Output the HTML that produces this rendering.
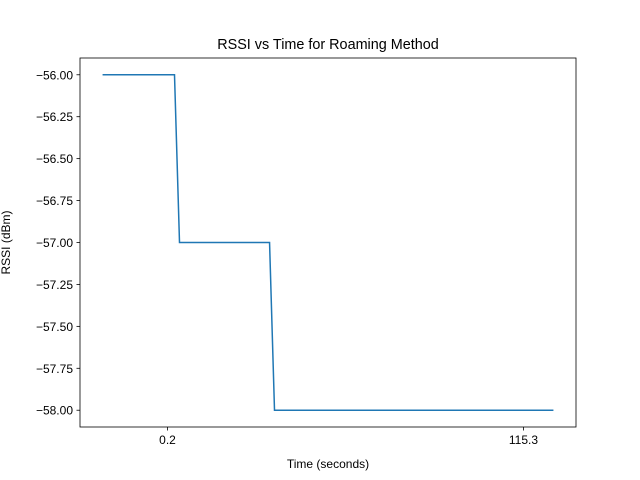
<!DOCTYPE html>
<html><head><meta charset="utf-8"><style>body{margin:0;background:#fff}svg{display:block;font-family:"Liberation Sans","DejaVu Sans",sans-serif}</style></head>
<body>
<svg id="chart" width="640" height="480"></svg>
<script>
const times=[-20.8,2.46,4.08,33.2,34.8,125.0];
const rssi=[-56,-56,-57,-57,-58,-58];
const xTicks=[0.2,115.3];
const xTickLabels=["0.2","115.3"];
const yTicks=[-56,-56.25,-56.5,-56.75,-57,-57.25,-57.5,-57.75,-58];
const yTickLabels=["−56.00","−56.25","−56.50","−56.75","−57.00","−57.25","−57.50","−57.75","−58.00"];
const L=80,R=576,T=58,B=427;
const xmin=-28.1,xmax=132.3,ymin=-58.1,ymax=-55.9;
const xs=v=>L+(v-xmin)/(xmax-xmin)*(R-L);
const ys=v=>B-(v-ymin)/(ymax-ymin)*(B-T);
const svg=document.getElementById('chart');
const NS='http://www.w3.org/2000/svg';
function mk(t,a,p){const e=document.createElementNS(NS,t);for(const k in a)e.setAttribute(k,a[k]);(p||svg).appendChild(e);return e;}
const line=mk('polyline',{points:times.map((t,i)=>xs(t)+','+ys(rssi[i])).join(' '),fill:'none',stroke:'#1f77b4','stroke-width':1.5});


const frame=mk('rect',{x:L,y:T,width:R-L,height:B-T,fill:'none',stroke:'#000','stroke-width':0.8});


xTicks.forEach((v,i)=>{
 const tk=mk('line',{x1:xs(v),x2:xs(v),y1:B,y2:B+3.5,stroke:'#000','stroke-width':0.8});
 
 
 const tx=mk('text',{x:xs(v),y:B+17,'font-size':12,'text-anchor':'middle'});
 tx.textContent=xTickLabels[i];
 
 
});
yTicks.forEach((v,i)=>{
 const tk=mk('line',{x1:L-3.5,x2:L,y1:ys(v),y2:ys(v),stroke:'#000','stroke-width':0.8});
 
 
 const tx=mk('text',{x:L-7,y:ys(v)+4.5,'font-size':12,'text-anchor':'end'});
 tx.textContent=yTickLabels[i];
 
 
});
const title=mk('text',{x:(L+R)/2,y:49,'font-size':14.4,'text-anchor':'middle'});
title.textContent='RSSI vs Time for Roaming Method';


const xl=mk('text',{x:(L+R)/2,y:468,'font-size':12,'text-anchor':'middle'});
xl.textContent='Time (seconds)';


const yl=mk('text',{x:0,y:0,'font-size':12,'text-anchor':'middle',transform:'translate(10,'+((T+B)/2)+') rotate(-90)'});
yl.textContent='RSSI (dBm)';


</script>
</body></html>
